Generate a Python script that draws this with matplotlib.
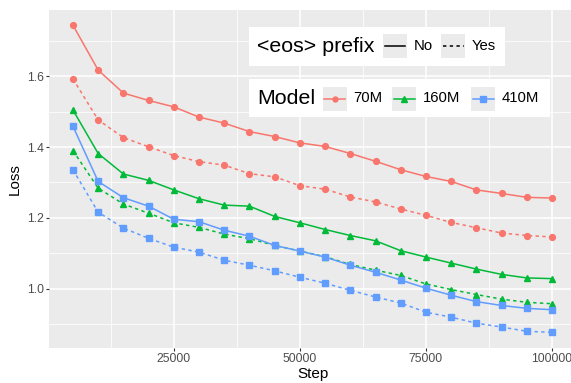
import matplotlib
matplotlib.use("Agg")
import matplotlib.pyplot as plt
from matplotlib.patches import Rectangle
from matplotlib.lines import Line2D

plt.rcParams['font.family'] = ['Liberation Sans', 'DejaVu Sans']

steps = [5000, 10000, 15000, 20000, 25000, 30000, 35000, 40000, 45000, 50000,
         55000, 60000, 65000, 70000, 75000, 80000, 85000, 90000, 95000, 100000]

m70_no = [1.745, 1.618, 1.553, 1.532, 1.514, 1.485, 1.468, 1.444, 1.430, 1.412,
          1.402, 1.382, 1.360, 1.336, 1.317, 1.303, 1.279, 1.269, 1.258, 1.256]
m70_yes = [1.593, 1.477, 1.427, 1.401, 1.376, 1.359, 1.349, 1.325, 1.316, 1.291,
           1.281, 1.259, 1.245, 1.225, 1.207, 1.187, 1.172, 1.157, 1.150, 1.146]
m160_no = [1.505, 1.382, 1.324, 1.306, 1.279, 1.254, 1.236, 1.233, 1.204, 1.186,
           1.167, 1.150, 1.135, 1.107, 1.089, 1.072, 1.055, 1.040, 1.030, 1.028]
m160_yes = [1.390, 1.284, 1.239, 1.213, 1.186, 1.173, 1.154, 1.141, 1.122, 1.106,
            1.090, 1.068, 1.052, 1.037, 1.013, 0.997, 0.983, 0.970, 0.961, 0.957]
m410_no = [1.459, 1.303, 1.257, 1.233, 1.196, 1.189, 1.165, 1.148, 1.122, 1.106,
           1.089, 1.066, 1.046, 1.024, 1.001, 0.981, 0.963, 0.952, 0.944, 0.940]
m410_yes = [1.336, 1.216, 1.171, 1.142, 1.117, 1.103, 1.080, 1.066, 1.050, 1.032,
            1.015, 0.995, 0.976, 0.959, 0.933, 0.919, 0.902, 0.891, 0.879, 0.876]

models = ["70M", "160M", "410M"]
prefix_labels = ["No", "Yes"]
x_ticks = [25000, 50000, 75000, 100000]
y_ticks = [1.0, 1.2, 1.4, 1.6]

colors = {"70M": "#F8766D", "160M": "#00BA38", "410M": "#619CFF"}
markers = {"70M": "o", "160M": "^", "410M": "s"}
msizes = {"70M": 4.2, "160M": 5.0, "410M": 4.8}
series = {
    ("70M", "No"): m70_no, ("70M", "Yes"): m70_yes,
    ("160M", "No"): m160_no, ("160M", "Yes"): m160_yes,
    ("410M", "No"): m410_no, ("410M", "Yes"): m410_yes,
}
dotted = (0, (2.2, 2.2))
styles = {"No": "-", "Yes": dotted}

W, H = 571, 383
fig = plt.figure(figsize=(W / 100, H / 100), dpi=100)
fig.patch.set_facecolor("white")

def fx(x):
    return x / W

def fy(y):
    return 1 - y / H

left, right, top, bottom = 49, 576, 10, 347.7
ax = fig.add_axes([fx(left), fy(bottom), fx(right - left), (bottom - top) / H])
ax.set_facecolor("#EBEBEB")
ax.set_xlim(250, 104750)
ax.set_ylim(0.8326, 1.788)
for s in ax.spines.values():
    s.set_visible(False)

ax.set_xticks(x_ticks)
ax.set_xticklabels([str(t) for t in x_ticks])
ax.set_yticks(y_ticks)
ax.set_yticklabels([f"{t:.1f}" for t in y_ticks])
ax.set_xticks([12500, 37500, 62500, 87500], minor=True)
ax.set_yticks([0.9, 1.1, 1.3, 1.5, 1.7], minor=True)
ax.grid(which="major", color="white", linewidth=1.1)
ax.grid(which="minor", color="white", linewidth=0.55)
ax.set_axisbelow(True)
ax.tick_params(which="major", length=2.4, width=0.8, color="#333333",
               labelsize=8.8, labelcolor="#4D4D4D", pad=1.3)
ax.tick_params(which="minor", length=0)

ax.set_xlabel("Step", fontsize=11, color="black", labelpad=1.5)
ax.set_ylabel("Loss", fontsize=11, color="black", labelpad=4)

# lines first, then points
for m in models:
    for p in prefix_labels:
        ax.plot(steps, series[(m, p)], color=colors[m], linestyle=styles[p],
                linewidth=1.1, zorder=2)
for m in models:
    for p in prefix_labels:
        ax.plot(steps, series[(m, p)], color=colors[m], linestyle="none",
                marker=markers[m], markersize=msizes[m], zorder=3)

# Custom legends (ggplot-style horizontal)
def box(x0, y0, x1, y1):
    fig.patches.append(Rectangle((fx(x0), fy(y1)), fx(x1 - x0), (y1 - y0) / H,
                                 transform=fig.transFigure, facecolor="white",
                                 edgecolor="none", zorder=5))

def key(x0, y0, x1, y1, color, ls, marker=None, ms=None):
    fig.patches.append(Rectangle((fx(x0), fy(y1)), fx(x1 - x0), (y1 - y0) / H,
                                 transform=fig.transFigure, facecolor="#EBEBEB",
                                 edgecolor="none", zorder=6))
    yc = (y0 + y1) / 2
    fig.lines.append(Line2D([fx(x0 + 1.5), fx(x1 - 1.5)], [fy(yc), fy(yc)],
                            transform=fig.transFigure, color=color, linestyle=ls,
                            linewidth=1.1, zorder=7))
    if marker:
        fig.lines.append(Line2D([fx((x0 + x1) / 2)], [fy(yc)], transform=fig.transFigure,
                                color=color, marker=marker, markersize=ms,
                                linestyle="none", zorder=8))

# Legend 1: <eos> prefix
box(249, 27.3, 505, 65.7)
fig.text(fx(257), fy(46.5), "<eos> prefix", fontsize=15.4, va="center", ha="left", zorder=9)
key(383.3, 34, 406.7, 57.7, "black", "-")
fig.text(fx(413.5), fy(46.5), "No", fontsize=10.7, va="center", ha="left", zorder=9)
key(441, 34, 465, 57.7, "black", dotted)
fig.text(fx(471.5), fy(46.5), "Yes", fontsize=10.7, va="center", ha="left", zorder=9)

# Legend 2: Model
box(249, 79, 550, 117.3)
fig.text(fx(257), fy(98.5), "Model", fontsize=15.4, va="center", ha="left", zorder=9)
key_x = {"70M": (322.7, 346.7, 353.5), "160M": (392, 416, 423), "410M": (471, 495, 501.5)}
for m in models:
    k0, k1, lx = key_x[m]
    key(k0, 86.7, k1, 110.7, colors[m], "-", markers[m], msizes[m] * 0.85)
    fig.text(fx(lx), fy(98.5), m, fontsize=10.7, va="center", ha="left", zorder=9)

fig.savefig("out.png", dpi=100)
